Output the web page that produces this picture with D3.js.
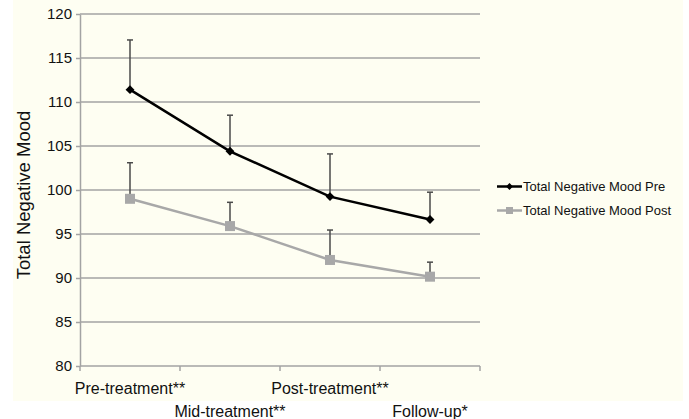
<!DOCTYPE html>
<html>
<head>
<meta charset="utf-8">
<script src="https://cdn.jsdelivr.net/npm/d3@7"></script>
<style>
  html, body { margin: 0; padding: 0; background: #ffffff; }
  svg { display: block; font-family: "Liberation Sans", Arial, Helvetica, sans-serif; }
</style>
</head>
<body>
<svg id="chart" width="689" height="419"></svg>
<script>
const categories = ["Pre-treatment**", "Mid-treatment**", "Post-treatment**", "Follow-up*"];
const preValues = [111.4, 104.4, 99.25, 96.65];
const preErrorTop = [117.05, 108.5, 104.1, 99.75];
const postValues = [99.0, 95.9, 92.05, 90.15];
const postErrorTop = [103.1, 98.6, 95.45, 91.8];
const yTicks = [80, 85, 90, 95, 100, 105, 110, 115, 120];
const seriesNames = ["Total Negative Mood Pre", "Total Negative Mood Post"];
const yLabel = "Total Negative Mood";

(function () {
const svg = d3.select("#chart");
const pLeft = 80, pRight = 480, pTop = 14, pBottom = 366;

svg.append("rect").attr("x", 13).attr("y", 0).attr("width", 670).attr("height", 401).attr("fill", "#fefef2");

const x = d3.scaleBand().domain(categories).range([pLeft, pRight]).padding(0);
const y = d3.scaleLinear().domain([80, 120]).range([pBottom, pTop]);
const cx = d => x(d) + x.bandwidth() / 2;

const gridColor = "#a3a3a3";

// gridlines
svg.append("g").selectAll("line").data(yTicks.filter(t => t !== 80)).join("line")
  .attr("x1", pLeft).attr("x2", pRight)
  .attr("y1", d => y(d)).attr("y2", d => y(d))
  .attr("stroke", gridColor).attr("stroke-width", 1.5);

// y axis
const yAxis = svg.append("g").attr("transform", `translate(${pLeft},0)`)
  .call(d3.axisLeft(y).tickValues(yTicks).tickSize(4).tickSizeOuter(0).tickPadding(4));
yAxis.select(".domain").attr("stroke", gridColor).attr("stroke-width", 1.5);
yAxis.selectAll(".tick line").attr("stroke", gridColor).attr("stroke-width", 1.5);
yAxis.selectAll(".tick text").attr("font-size", 15).attr("fill", "#111")
  .attr("font-family", '"Liberation Sans", Arial, sans-serif');

// x axis
svg.append("line").attr("x1", pLeft).attr("x2", pRight).attr("y1", pBottom).attr("y2", pBottom)
  .attr("stroke", gridColor).attr("stroke-width", 1.5);
const edges = categories.map(c => x(c)).concat([x.range()[1]]);
svg.append("g").selectAll("line").data(edges).join("line")
  .attr("x1", d => d).attr("x2", d => d).attr("y1", pBottom).attr("y2", pBottom + 5)
  .attr("stroke", gridColor).attr("stroke-width", 1.5);
svg.append("g").selectAll("text").data(categories).join("text")
  .attr("x", d => cx(d))
  .attr("y", (d, i) => i % 2 === 0 ? 394 : 417)
  .attr("text-anchor", "middle").attr("font-size", 16).attr("fill", "#111")
  .text(d => d);

// y label
svg.append("text").attr("transform", `translate(30,195) rotate(-90)`)
  .attr("text-anchor", "middle").attr("font-size", 18.5).attr("fill", "#111").text(yLabel);

const errColor = "#4a4a4a";
function errorBars(vals, tops) {
  const g = svg.append("g");
  categories.forEach((c, i) => {
    g.append("line").attr("x1", cx(c)).attr("x2", cx(c)).attr("y1", y(vals[i])).attr("y2", y(tops[i]))
      .attr("stroke", errColor).attr("stroke-width", 1.5);
    g.append("line").attr("x1", cx(c) - 3).attr("x2", cx(c) + 3).attr("y1", y(tops[i])).attr("y2", y(tops[i]))
      .attr("stroke", errColor).attr("stroke-width", 1.5);
  });
}
errorBars(postValues, postErrorTop);
errorBars(preValues, preErrorTop);

const line = d3.line().x((d, i) => cx(categories[i])).y(d => y(d));
const postColor = "#a8a8a8";
svg.append("path").datum(postValues).attr("d", line).attr("fill", "none")
  .attr("stroke", postColor).attr("stroke-width", 2.5);
svg.append("g").selectAll("rect").data(postValues).join("rect")
  .attr("x", (d, i) => cx(categories[i]) - 5).attr("y", d => y(d) - 5)
  .attr("width", 10).attr("height", 10).attr("fill", postColor);

svg.append("path").datum(preValues).attr("d", line).attr("fill", "none")
  .attr("stroke", "#000").attr("stroke-width", 2.5);
const diamond = d3.symbol().type(d3.symbolDiamond2).size(50);
svg.append("g").selectAll("path").data(preValues).join("path")
  .attr("d", diamond).attr("transform", (d, i) => `translate(${cx(categories[i])},${y(d)})`)
  .attr("fill", "#000");

// legend
const leg = svg.append("g");
const legY = [186.5, 210.5];
leg.append("line").attr("x1", 497).attr("x2", 522).attr("y1", legY[0]).attr("y2", legY[0]).attr("stroke", "#000").attr("stroke-width", 2.5);
leg.append("path").attr("d", d3.symbol().type(d3.symbolDiamond2).size(30)).attr("transform", `translate(509.5,${legY[0]})`).attr("fill", "#000");
leg.append("line").attr("x1", 497).attr("x2", 522).attr("y1", legY[1]).attr("y2", legY[1]).attr("stroke", postColor).attr("stroke-width", 2.5);
leg.append("rect").attr("x", 506).attr("y", legY[1] - 3.5).attr("width", 7).attr("height", 7).attr("fill", postColor);
leg.selectAll("text").data(seriesNames).join("text")
  .attr("x", 523).attr("y", (d, i) => legY[i] + 4.5)
  .attr("font-size", 13).attr("fill", "#111").text(d => d);
})();
</script>
</body>
</html>
